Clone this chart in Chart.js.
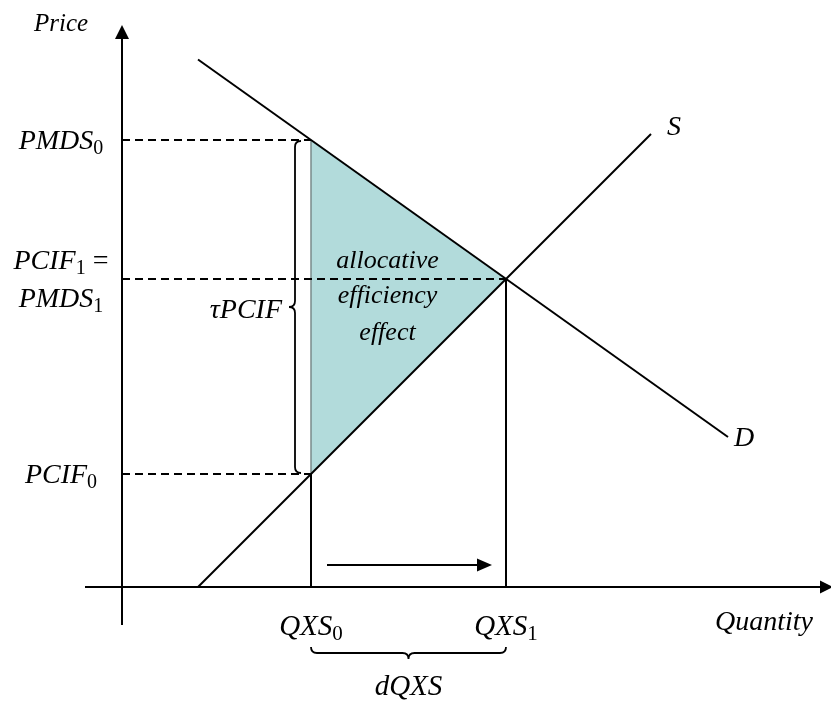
<!DOCTYPE html>
<html><head><meta charset="utf-8">
<script src="https://cdn.jsdelivr.net/npm/chart.js@4.4.1/dist/chart.umd.min.js"></script>
<style>html,body{margin:0;padding:0;background:#fff;}#wrap{width:831px;height:701px;position:relative;}</style>
</head><body><div id="wrap"><canvas id="c"></canvas></div>
<script>
// ---- data (arbitrary units: quantity on x, price on y) ----
const quantityLabels = ['QXS_0', 'QXS_1'];
const quantityValues = [18.9, 38.4];
const priceLabels = ['PMDS_0', 'PCIF_1 =\nPMDS_1', 'PCIF_0'];
const priceValues = [44.7, 30.8, 11.3];
const demandQ = [7.6, 60.6];
const demandP = [52.75, 15.0];
const supplyQ = [7.6, 52.9];
const supplyP = [0, 45.3];
const curveLabels = ['D', 'S'];
const axisTitles = ['Price', 'Quantity'];
const braceLabels = ['τPCIF', 'dQXS'];
const areaLabel = ['allocative', 'efficiency', 'effect'];
const xRange = [-12.2, 70.9];
const yRange = [-11.4, 58.7];
const xAxisExtent = [-3.7, 71.1];
const yAxisExtent = [-3.8, 56.2];

const [Q0, Q1] = quantityValues;
const [PMDS0, PCIF1, PCIF0] = priceValues;

const FAM = '"Liberation Serif", "Times New Roman", serif';
let SIZE = 28;
function fontFor(k){ const sub=Math.round(SIZE*0.71); return k==='s' ? sub+'px '+FAM : (k==='r' ? SIZE+'px '+FAM : 'italic '+SIZE+'px '+FAM); }
function parseLine(s){
  const parts=[]; const re=/_(\d)/g; let last=0, m;
  while((m=re.exec(s))){ if(m.index>last) parts.push([s.slice(last,m.index),'m']); parts.push([m[1],'s']); last=re.lastIndex; }
  if(last<s.length){ const rest=s.slice(last); if(/=/.test(rest)) parts.push([rest,'r']); else parts.push([rest,'m']); }
  return parts;
}
function rich(ctx, s, x, y, align, size){
  SIZE = size || 28;
  const parts=parseLine(s); let w=0; const ms=[];
  for(const [t,k] of parts){ ctx.font=fontFor(k); const mw=ctx.measureText(t).width; ms.push(mw); w+=mw; }
  let sx = align==='right'? x-w : (align==='center'? x-w/2 : x);
  parts.forEach(([t,k],i)=>{ ctx.font=fontFor(k); ctx.fillText(t, sx, k==='s'? y+5 : y); sx+=ms[i]; });
}
function seg(x1,y1,x2,y2){ return [{x:x1,y:y1},{x:x2,y:y2}]; }

const annot = {
  id:'annot',
  afterDatasetsDraw(chart){
    const ctx=chart.ctx, xs=chart.scales.x, ys=chart.scales.y;
    const X=v=>xs.getPixelForValue(v), Y=v=>ys.getPixelForValue(v);
    const ax=X(0), ay=Y(0);
    ctx.save();
    ctx.fillStyle='#000'; ctx.strokeStyle='#000';
    // axis arrowheads
    const ty=Y(yAxisExtent[1]);
    ctx.beginPath(); ctx.moveTo(ax,ty); ctx.lineTo(ax-7,ty+14); ctx.lineTo(ax+7,ty+14); ctx.closePath(); ctx.fill();
    const tx=X(xAxisExtent[1]);
    ctx.beginPath(); ctx.moveTo(tx,ay); ctx.lineTo(tx-13,ay-6.5); ctx.lineTo(tx-13,ay+6.5); ctx.closePath(); ctx.fill();
    // shift arrow head
    const hx=X(Q1)-14, hy=ay-22;
    ctx.beginPath(); ctx.moveTo(hx,hy); ctx.lineTo(hx-15,hy-6.5); ctx.lineTo(hx-15,hy+6.5); ctx.closePath(); ctx.fill();
    // vertical brace
    ctx.lineWidth=1.8;
    const bx=X(Q0)-16, by1=Y(PMDS0)+1, by2=Y(PCIF0)-1, bm=(by1+by2)/2, r=6;
    ctx.beginPath();
    ctx.moveTo(bx+r,by1); ctx.quadraticCurveTo(bx,by1,bx,by1+r);
    ctx.lineTo(bx,bm-r); ctx.quadraticCurveTo(bx,bm,bx-r,bm);
    ctx.quadraticCurveTo(bx,bm,bx,bm+r);
    ctx.lineTo(bx,by2-r); ctx.quadraticCurveTo(bx,by2,bx+r,by2);
    ctx.stroke();
    // horizontal brace
    const hbx1=X(Q0), hbx2=X(Q1), hby=ay+66, hm=(hbx1+hbx2)/2;
    ctx.beginPath();
    ctx.moveTo(hbx1,hby-6); ctx.quadraticCurveTo(hbx1,hby,hbx1+r,hby);
    ctx.lineTo(hm-r,hby); ctx.quadraticCurveTo(hm,hby,hm,hby+r);
    ctx.quadraticCurveTo(hm,hby,hm+r,hby);
    ctx.lineTo(hbx2-r,hby); ctx.quadraticCurveTo(hbx2,hby,hbx2,hby-6);
    ctx.stroke();
    // texts
    ctx.textBaseline='alphabetic';
    const labCx = ax-61;
    rich(ctx, axisTitles[0], labCx, ty+6, 'center', 25);
    priceLabels.forEach((lab,i)=>{
      const lines=lab.split('\n'); const n=lines.length; const py=Y(priceValues[i]);
      lines.forEach((ln,j)=>{ rich(ctx, ln, labCx, py+9+(j-(n-1)/2)*38, 'center', 28); });
    });
    quantityLabels.forEach((lab,i)=>{ rich(ctx, lab, X(quantityValues[i]), ay+48, 'center', 29); });
    rich(ctx, axisTitles[1], tx-20, ay+43, 'right', 28);
    rich(ctx, braceLabels[0], bx-13, bm+11, 'right', 28);
    rich(ctx, braceLabels[1], hm, ay+108, 'center', 29);
    rich(ctx, curveLabels[0], X(demandQ[1])+6, Y(demandP[1])+9, 'left', 28);
    rich(ctx, curveLabels[1], X(supplyQ[1])+16, Y(supplyP[1])+1, 'left', 28);
    const acx=hm-21, acy=Y(PCIF1);
    [-11,24,61].forEach((d,i)=> rich(ctx, areaLabel[i], acx, acy+d, 'center', 26));
    ctx.restore();
  }
};

const black='#000';
const ds = [
  {data:seg(xAxisExtent[0],0,xAxisExtent[1]-1.2,0), borderColor:black, borderWidth:2},
  {data:seg(0,yAxisExtent[0],0,yAxisExtent[1]-1.2), borderColor:black, borderWidth:2},
  {data:demandQ.map((q,i)=>({x:q,y:demandP[i]})), borderColor:black, borderWidth:2},
  {data:supplyQ.map((q,i)=>({x:q,y:supplyP[i]})), borderColor:black, borderWidth:2},
  {data:seg(0,PMDS0,Q0,PMDS0), borderColor:black, borderWidth:1.8, borderDash:[8,5]},
  {data:seg(0,PCIF1,Q1,PCIF1), borderColor:black, borderWidth:1.8, borderDash:[8,5]},
  {data:seg(0,PCIF0,Q0,PCIF0), borderColor:black, borderWidth:1.8, borderDash:[8,5]},
  {data:seg(Q0,PCIF0,Q0,0), borderColor:black, borderWidth:2},
  {data:seg(Q1,PCIF1,Q1,0), borderColor:black, borderWidth:2},
  {data:seg(Q0,PMDS0,Q0,PCIF0), borderColor:'#7a8a8a', borderWidth:1.5},
  {data:seg(Q0+1.6,2.2,Q1-2.6,2.2), borderColor:black, borderWidth:2},
  {data:seg(Q0,PMDS0,Q1,PCIF1), borderColor:'rgba(0,0,0,0)', borderWidth:0, fill:'+1', backgroundColor:'#b2dbdb', order:5},
  {data:seg(Q0,PCIF0,Q1,PCIF1), borderColor:'rgba(0,0,0,0)', borderWidth:0, fill:false, order:5}
];
ds.forEach(d=>{ d.pointRadius=0; d.tension=0; if(d.fill===undefined) d.fill=false; d.borderCapStyle='butt'; });

new Chart(document.getElementById('c'), {
  type:'line',
  data:{datasets:ds},
  options:{
    responsive:true, maintainAspectRatio:false, animation:false,
    layout:{padding:0},
    plugins:{legend:{display:false}, tooltip:{enabled:false}},
    events:[],
    scales:{
      x:{type:'linear', min:xRange[0], max:xRange[1], display:false},
      y:{type:'linear', min:yRange[0], max:yRange[1], display:false}
    }
  },
  plugins:[annot]
});
</script></body></html>
